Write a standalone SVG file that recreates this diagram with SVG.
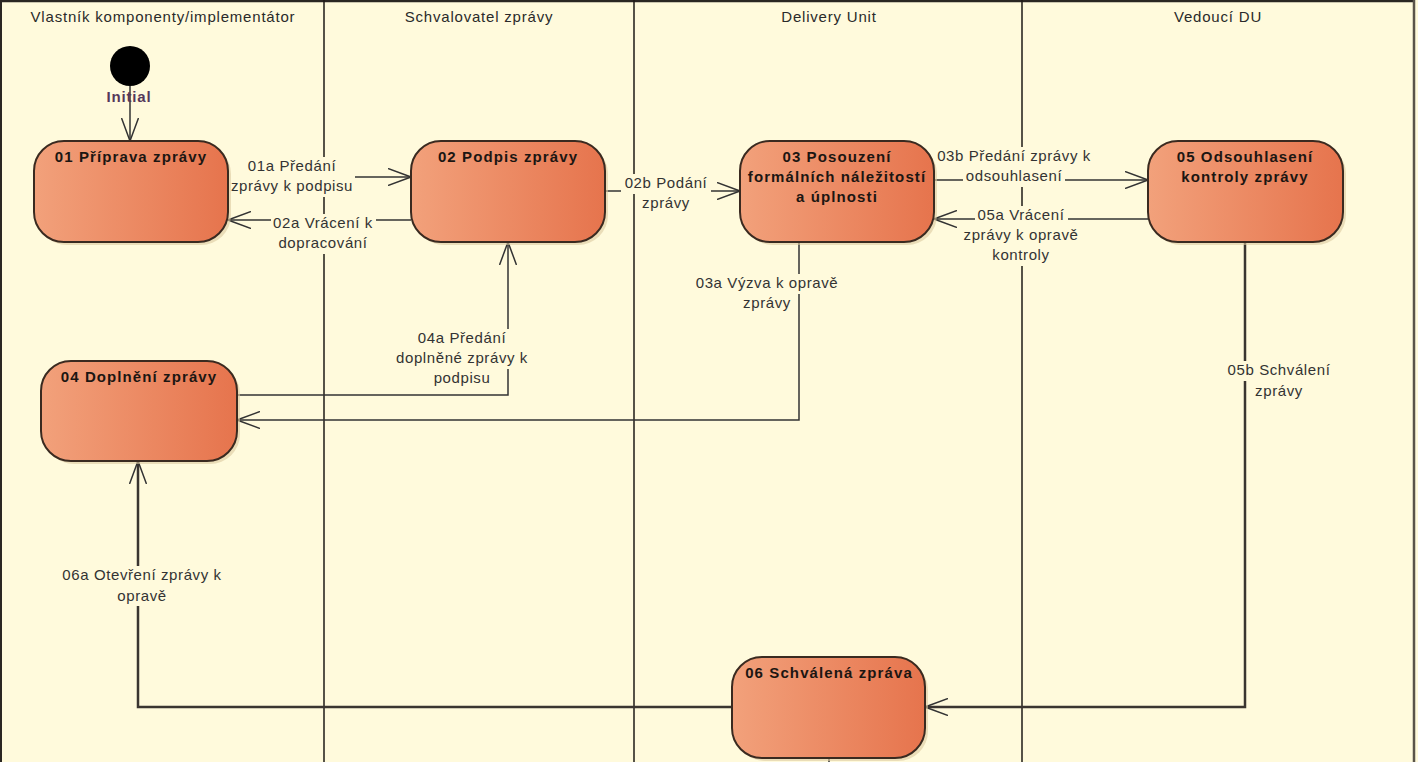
<svg xmlns="http://www.w3.org/2000/svg" width="1418" height="762" viewBox="0 0 1418 762">
<defs>
<linearGradient id="nodeGrad" x1="0" y1="0" x2="1" y2="0">
<stop offset="0" stop-color="#F2A17B"/>
<stop offset="1" stop-color="#E6744D"/>
</linearGradient>
<marker id="arr" viewBox="0 0 24 18" refX="23" refY="9" markerWidth="24" markerHeight="18" markerUnits="userSpaceOnUse" orient="auto">
<path d="M0,0.5 L23,9 L0,17.5" fill="none" stroke="#333" stroke-width="1.5"/>
</marker>
</defs>
<style>
.lane{stroke:#1e1a16;stroke-width:1.5;fill:none}
.hdr{font-family:"Liberation Sans",Arial,sans-serif;font-size:15px;letter-spacing:0.8px;fill:#2a2a2a;text-anchor:middle}
.box{fill:url(#nodeGrad);stroke:#3a2a20;stroke-width:2}
.shadow{fill:#dccaa0;opacity:0.6}
.title{font-family:"Liberation Sans",Arial,sans-serif;font-size:15px;font-weight:bold;letter-spacing:1.1px;fill:#1c1612;text-anchor:middle}
.edge{fill:none;stroke:#333;stroke-width:1.5}
.thick{fill:none;stroke:#3a3530;stroke-width:2.5}
.lbl{font-family:"Liberation Sans",Arial,sans-serif;font-size:15px;letter-spacing:0.6px;fill:#333;text-anchor:middle}
.lbg{fill:#FFFADC}
</style>
<rect x="0" y="0" width="1418" height="762" fill="#FFFADC"/>
<g id="lanes">
<line x1="0" y1="1" x2="1414" y2="1" stroke="#2a2622" stroke-width="2.5"/>
<line x1="1" y1="0" x2="1" y2="762" stroke="#2a2622" stroke-width="2"/>
<line x1="1414" y1="0" x2="1414" y2="762" stroke="#5a544a" stroke-width="2.5"/>
<line class="lane" x1="324" y1="0" x2="324" y2="762"/>
<line class="lane" x1="634" y1="0" x2="634" y2="762"/>
<line class="lane" x1="1022" y1="0" x2="1022" y2="762"/>
<text class="hdr" x="163" y="22">Vlastník komponenty/implementátor</text>
<text class="hdr" x="479" y="22">Schvalovatel zprávy</text>
<text class="hdr" x="829" y="22">Delivery Unit</text>
<text class="hdr" x="1218" y="22">Vedoucí DU</text>
</g>
<g id="connectors">
<path class="edge" d="M130,86 L130,141" marker-end="url(#arr)"/>
<path class="edge" d="M228,177 L411,177" marker-end="url(#arr)"/>
<path class="edge" d="M411,220 L228,220" marker-end="url(#arr)"/>
<path class="edge" d="M605,191 L740,191" marker-end="url(#arr)"/>
<path class="edge" d="M934,180 L1148,180" marker-end="url(#arr)"/>
<path class="edge" d="M1148,219 L934,219" marker-end="url(#arr)"/>
<path class="edge" d="M799,242 L799,420 L237,420" marker-end="url(#arr)"/>
<path class="edge" d="M237,395 L508,395 L508,242" marker-end="url(#arr)"/>
<path class="thick" d="M1245,242 L1245,707 L925,707" marker-end="url(#arr)"/>
<path class="thick" d="M732,707 L138,707 L138,461" marker-end="url(#arr)"/>
<path class="edge" d="M829,758 L829,765"/>
<g id="edge-labels">
<rect class="lbg" x="245" y="157" width="94" height="20"/>
<rect class="lbg" x="229" y="175" width="126" height="22"/>
<text class="lbl" x="292" y="171">01a Předání</text>
<text class="lbl" x="292" y="191">zprávy k podpisu</text>
<rect class="lbg" x="271" y="214" width="105" height="20"/>
<rect class="lbg" x="276" y="234" width="95" height="20"/>
<text class="lbl" x="323" y="228">02a Vrácení k</text>
<text class="lbl" x="323" y="248">dopracování</text>
<rect class="lbg" x="621" y="174" width="90" height="20"/>
<rect class="lbg" x="640" y="194" width="52" height="20"/>
<text class="lbl" x="666" y="188">02b Podání</text>
<text class="lbl" x="666" y="208">zprávy</text>
<rect class="lbg" x="935" y="147" width="158" height="20"/>
<rect class="lbg" x="963" y="167" width="102" height="20"/>
<text class="lbl" x="1014" y="161">03b Předání zprávy k</text>
<text class="lbl" x="1014" y="181">odsouhlasení</text>
<rect class="lbg" x="975" y="206" width="93" height="20"/>
<rect class="lbg" x="961" y="226" width="118" height="20"/>
<rect class="lbg" x="990" y="246" width="60" height="20"/>
<text class="lbl" x="1021" y="220">05a Vrácení</text>
<text class="lbl" x="1021" y="240">zprávy k opravě</text>
<text class="lbl" x="1021" y="260">kontroly</text>
<rect class="lbg" x="695" y="274" width="145" height="20"/>
<rect class="lbg" x="741" y="294" width="52" height="20"/>
<text class="lbl" x="767" y="288">03a Výzva k opravě</text>
<text class="lbl" x="767" y="308">zprávy</text>
<rect class="lbg" x="415" y="329" width="96" height="20"/>
<rect class="lbg" x="394" y="349" width="137" height="20"/>
<rect class="lbg" x="434" y="369" width="58" height="20"/>
<text class="lbl" x="462" y="343">04a Předání</text>
<text class="lbl" x="462" y="363">doplněné zprávy k</text>
<text class="lbl" x="462" y="383">podpisu</text>
<rect class="lbg" x="1224" y="361" width="112" height="20"/>
<text class="lbl" x="1279" y="375">05b Schválení</text>
<text class="lbl" x="1279" y="396">zprávy</text>
<rect class="lbg" x="66" y="566" width="152" height="20"/>
<rect class="lbg" x="118" y="586" width="48" height="20"/>
<text class="lbl" x="142" y="580">06a Otevření zprávy k</text>
<text class="lbl" x="142" y="601">opravě</text>
</g>
</g>
<g id="initial">
<circle cx="130" cy="66" r="20" fill="#000"/>
<text x="129" y="102" font-family="'Liberation Sans',Arial,sans-serif" font-size="15" font-weight="bold" letter-spacing="0.8" fill="#55385a" text-anchor="middle">Initial</text>
</g>
<g id="n01">
<rect class="shadow" x="37" y="144" width="194" height="101" rx="30"/>
<rect class="box" x="34" y="141" width="194" height="101" rx="30"/>
<text class="title" x="131" y="162">01 Příprava zprávy</text>
</g>
<g id="n02">
<rect class="shadow" x="414" y="144" width="194" height="101" rx="30"/>
<rect class="box" x="411" y="141" width="194" height="101" rx="30"/>
<text class="title" x="508" y="162">02 Podpis zprávy</text>
</g>
<g id="n03">
<rect class="shadow" x="743" y="144" width="194" height="101" rx="30"/>
<rect class="box" x="740" y="141" width="194" height="101" rx="30"/>
<text class="title" x="837" y="162">03 Posouzení</text>
<text class="title" x="837" y="182">formálních náležitostí</text>
<text class="title" x="837" y="202">a úplnosti</text>
</g>
<g id="n05">
<rect class="shadow" x="1151" y="144" width="195" height="101" rx="30"/>
<rect class="box" x="1148" y="141" width="195" height="101" rx="30"/>
<text class="title" x="1245" y="162">05 Odsouhlasení</text>
<text class="title" x="1245" y="182">kontroly zprávy</text>
</g>
<g id="n04">
<rect class="shadow" x="44" y="364" width="196" height="100" rx="30"/>
<rect class="box" x="41" y="361" width="196" height="100" rx="30"/>
<text class="title" x="139" y="382">04 Doplnění zprávy</text>
</g>
<g id="n06">
<rect class="shadow" x="735" y="660" width="193" height="101" rx="30"/>
<rect class="box" x="732" y="657" width="193" height="101" rx="30"/>
<text class="title" x="829" y="678">06 Schválená zpráva</text>
</g>
</svg>
